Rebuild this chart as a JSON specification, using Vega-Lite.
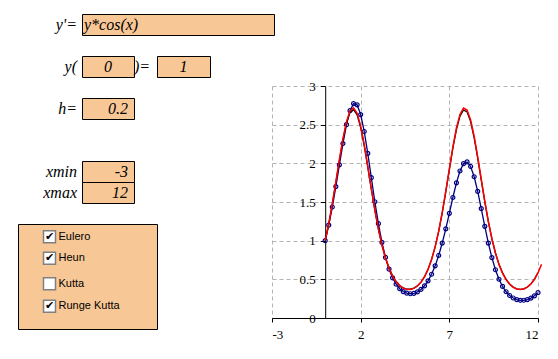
{
  "$schema": "https://vega.github.io/schema/vega-lite/v6.json",
  "padding": 0,
  "background": "white",
  "bounds": "flush",
  "spacing": 0,
  "config": {
    "view": {"stroke": null},
    "axis": {"labelFont": "Liberation Serif", "labelFontSize": 13, "labelColor": "black", "domainColor": "black", "tickColor": "black", "gridColor": "#b4b4b4", "gridDash": [4, 3], "gridWidth": 1, "domainWidth": 1, "tickWidth": 1}
  },
  "datasets": {
    "ode": [
      {"x": 0, "Eulero": 1, "Heun": 1, "RK": 1},
      {"x": 0.2, "Eulero": 1.2, "Heun": 1.2176, "RK": 1.2198},
      {"x": 0.4, "Eulero": 1.4352, "Heun": 1.4711, "RK": 1.4761},
      {"x": 0.6, "Eulero": 1.6996, "Heun": 1.7503, "RK": 1.7588},
      {"x": 0.8, "Eulero": 1.9802, "Heun": 2.0369, "RK": 2.049},
      {"x": 1.0, "Eulero": 2.2561, "Heun": 2.3042, "RK": 2.3198},
      {"x": 1.2, "Eulero": 2.4999, "Heun": 2.5212, "RK": 2.5397},
      {"x": 1.4, "Eulero": 2.681, "Heun": 2.6585, "RK": 2.679},
      {"x": 1.6, "Eulero": 2.7722, "Heun": 2.6957, "RK": 2.7171},
      {"x": 1.8, "Eulero": 2.756, "Heun": 2.6269, "RK": 2.6481},
      {"x": 2.0, "Eulero": 2.6308, "Heun": 2.4629, "RK": 2.4826},
      {"x": 2.2, "Eulero": 2.4118, "Heun": 2.2275, "RK": 2.2445},
      {"x": 2.4, "Eulero": 2.1279, "Heun": 1.9515, "RK": 1.965},
      {"x": 2.6, "Eulero": 1.8141, "Heun": 1.665, "RK": 1.6745},
      {"x": 2.8, "Eulero": 1.5032, "Heun": 1.3924, "RK": 1.3979},
      {"x": 3.0, "Eulero": 1.2199, "Heun": 1.1493, "RK": 1.1516},
      {"x": 3.2, "Eulero": 0.9784, "Heun": 0.9435, "RK": 0.9433},
      {"x": 3.4, "Eulero": 0.7831, "Heun": 0.7763, "RK": 0.7745},
      {"x": 3.6, "Eulero": 0.6316, "Heun": 0.6451, "RK": 0.6424},
      {"x": 3.8, "Eulero": 0.5184, "Heun": 0.5454, "RK": 0.5423},
      {"x": 4.0, "Eulero": 0.4364, "Heun": 0.4722, "RK": 0.4692},
      {"x": 4.2, "Eulero": 0.3793, "Heun": 0.4212, "RK": 0.4183},
      {"x": 4.4, "Eulero": 0.3421, "Heun": 0.3889, "RK": 0.3861},
      {"x": 4.6, "Eulero": 0.3211, "Heun": 0.3729, "RK": 0.3702},
      {"x": 4.8, "Eulero": 0.3139, "Heun": 0.3719, "RK": 0.3693},
      {"x": 5.0, "Eulero": 0.3194, "Heun": 0.3859, "RK": 0.3833},
      {"x": 5.2, "Eulero": 0.3375, "Heun": 0.4159, "RK": 0.4134},
      {"x": 5.4, "Eulero": 0.3691, "Heun": 0.4643, "RK": 0.4617},
      {"x": 5.6, "Eulero": 0.416, "Heun": 0.5343, "RK": 0.5319},
      {"x": 5.8, "Eulero": 0.4805, "Heun": 0.6304, "RK": 0.6284},
      {"x": 6.0, "Eulero": 0.5656, "Heun": 0.7575, "RK": 0.7562},
      {"x": 6.2, "Eulero": 0.6742, "Heun": 0.9202, "RK": 0.9203},
      {"x": 6.4, "Eulero": 0.8086, "Heun": 1.1215, "RK": 1.1236},
      {"x": 6.6, "Eulero": 0.9692, "Heun": 1.3606, "RK": 1.3655},
      {"x": 6.8, "Eulero": 1.1534, "Heun": 1.6307, "RK": 1.6391},
      {"x": 7.0, "Eulero": 1.354, "Heun": 1.9167, "RK": 1.9289},
      {"x": 7.2, "Eulero": 1.5582, "Heun": 2.1954, "RK": 2.2114},
      {"x": 7.4, "Eulero": 1.7477, "Heun": 2.437, "RK": 2.4564},
      {"x": 7.6, "Eulero": 1.901, "Heun": 2.6105, "RK": 2.6325},
      {"x": 7.8, "Eulero": 1.9966, "Heun": 2.6908, "RK": 2.7143},
      {"x": 8.0, "Eulero": 2.0181, "Heun": 2.6658, "RK": 2.6895},
      {"x": 8.2, "Eulero": 1.9594, "Heun": 2.5392, "RK": 2.5619},
      {"x": 8.4, "Eulero": 1.8265, "Heun": 2.3302, "RK": 2.3505},
      {"x": 8.6, "Eulero": 1.6368, "Heun": 2.0675, "RK": 2.0841},
      {"x": 8.8, "Eulero": 1.4146, "Heun": 1.7822, "RK": 1.7948},
      {"x": 9.0, "Eulero": 1.1851, "Heun": 1.5016, "RK": 1.51},
      {"x": 9.2, "Eulero": 0.9692, "Heun": 1.2451, "RK": 1.2497},
      {"x": 9.4, "Eulero": 0.7802, "Heun": 1.0235, "RK": 1.0251},
      {"x": 9.6, "Eulero": 0.6242, "Heun": 0.8406, "RK": 0.84},
      {"x": 9.8, "Eulero": 0.5013, "Heun": 0.695, "RK": 0.6932},
      {"x": 10.0, "Eulero": 0.408, "Heun": 0.5829, "RK": 0.5804},
      {"x": 10.2, "Eulero": 0.3395, "Heun": 0.4993, "RK": 0.4967},
      {"x": 10.4, "Eulero": 0.291, "Heun": 0.4396, "RK": 0.437},
      {"x": 10.6, "Eulero": 0.2584, "Heun": 0.3999, "RK": 0.3975},
      {"x": 10.8, "Eulero": 0.2385, "Heun": 0.3773, "RK": 0.375},
      {"x": 11.0, "Eulero": 0.2292, "Heun": 0.3701, "RK": 0.3679},
      {"x": 11.2, "Eulero": 0.2294, "Heun": 0.3778, "RK": 0.3756},
      {"x": 11.4, "Eulero": 0.2387, "Heun": 0.4009, "RK": 0.3988},
      {"x": 11.6, "Eulero": 0.2575, "Heun": 0.4413, "RK": 0.4392},
      {"x": 11.8, "Eulero": 0.2867, "Heun": 0.5017, "RK": 0.4995},
      {"x": 12.0, "Eulero": 0.328, "Heun": 0.5863, "RK": 0.5847},
      {"x": 12.2, "RK": 0.6933}
    ],
    "boxes": [
      {"x": 82.5, "x2": 274.5, "y": 14.5, "y2": 35.5},
      {"x": 82.5, "x2": 134.5, "y": 56.5, "y2": 77.5},
      {"x": 157.5, "x2": 210.5, "y": 56.5, "y2": 77.5},
      {"x": 82.5, "x2": 134.5, "y": 98.5, "y2": 119.5},
      {"x": 82.5, "x2": 134.5, "y": 161.5, "y2": 182.5},
      {"x": 82.5, "x2": 134.5, "y": 182.5, "y2": 203.5},
      {"x": 18.5, "x2": 157.5, "y": 224.5, "y2": 329.5}
    ],
    "rightText": [
      {"t": "y'=", "x": 77, "y": 25},
      {"t": "y(", "x": 77, "y": 67},
      {"t": "h=", "x": 77, "y": 109},
      {"t": "xmin", "x": 77, "y": 172},
      {"t": "xmax", "x": 77, "y": 193},
      {"t": "0.2", "x": 128, "y": 109},
      {"t": "-3", "x": 128, "y": 172},
      {"t": "12", "x": 128, "y": 193}
    ],
    "leftText": [
      {"t": ")=", "x": 134, "y": 67},
      {"t": "y*cos(x)", "x": 84, "y": 25}
    ],
    "centerText": [
      {"t": "0", "x": 108, "y": 67},
      {"t": "1", "x": 183.5, "y": 67}
    ],
    "checks": [
      {"label": "Eulero", "cy": 236.7, "checked": true},
      {"label": "Heun", "cy": 258.3, "checked": true},
      {"label": "Kutta", "cy": 283.7, "checked": false},
      {"label": "Runge Kutta", "cy": 306.3, "checked": true}
    ]
  },
  "hconcat": [
    {
      "width": 272,
      "height": 340,
      "layer": [
        {
          "data": {"name": "boxes"},
          "mark": {"type": "rect", "fill": "#F8C796", "stroke": "black", "strokeWidth": 1},
          "encoding": {
            "x": {"field": "x", "type": "quantitative", "scale": {"domain": [0, 272], "nice": false, "zero": false}, "axis": null},
            "x2": {"field": "x2"},
            "y": {"field": "y", "type": "quantitative", "scale": {"domain": [0, 340], "nice": false, "zero": false, "reverse": true}, "axis": null},
            "y2": {"field": "y2"}
          }
        },
        {
          "data": {"name": "rightText"},
          "mark": {"type": "text", "align": "right", "baseline": "middle", "font": "Liberation Serif", "fontStyle": "italic", "fontSize": 16},
          "encoding": {
            "x": {"field": "x", "type": "quantitative"},
            "y": {"field": "y", "type": "quantitative"},
            "text": {"field": "t"}
          }
        },
        {
          "data": {"name": "leftText"},
          "mark": {"type": "text", "align": "left", "baseline": "middle", "font": "Liberation Serif", "fontStyle": "italic", "fontSize": 16},
          "encoding": {
            "x": {"field": "x", "type": "quantitative"},
            "y": {"field": "y", "type": "quantitative"},
            "text": {"field": "t"}
          }
        },
        {
          "data": {"name": "centerText"},
          "mark": {"type": "text", "align": "center", "baseline": "middle", "font": "Liberation Serif", "fontStyle": "italic", "fontSize": 16},
          "encoding": {
            "x": {"field": "x", "type": "quantitative"},
            "y": {"field": "y", "type": "quantitative"},
            "text": {"field": "t"}
          }
        },
        {
          "data": {"name": "checks"},
          "mark": {"type": "square", "size": 144, "fill": "white", "stroke": "#808080", "strokeWidth": 1.5, "opacity": 1},
          "encoding": {
            "x": {"datum": 49.5, "type": "quantitative"},
            "y": {"field": "cy", "type": "quantitative"}
          }
        },
        {
          "data": {"name": "checks"},
          "transform": [{"filter": "datum.checked"}],
          "mark": {"type": "text", "align": "center", "baseline": "middle", "font": "DejaVu Sans", "fontSize": 11, "fontWeight": "bold", "color": "black", "text": "✔"},
          "encoding": {
            "x": {"datum": 49.5, "type": "quantitative"},
            "y": {"field": "cy", "type": "quantitative"}
          }
        },
        {
          "data": {"name": "checks"},
          "mark": {"type": "text", "align": "left", "baseline": "middle", "font": "Liberation Sans", "fontSize": 11, "color": "black"},
          "encoding": {
            "x": {"datum": 58.5, "type": "quantitative"},
            "y": {"field": "cy", "type": "quantitative"},
            "text": {"field": "label"}
          }
        }
      ]
    },
    {
      "vconcat": [
        {
          "width": 266,
          "height": 86,
          "data": {"values": [{}]},
          "mark": {"type": "point", "opacity": 0}
        },
        {
          "width": 266,
          "height": 232,
          "data": {"name": "ode"},
          "transform": [{"fold": ["Eulero", "Heun", "RK"], "as": ["method", "y"]}],
          "encoding": {
            "x": {"field": "x", "type": "quantitative", "scale": {"domain": [-3, 12], "nice": false, "zero": false},
              "axis": {"values": [-3, 2, 7, 12], "title": null, "grid": true, "tickSize": 4, "labelPadding": 6, "labelExpr": "'' + datum.value", "labelOverlap": false}},
            "y": {"field": "y", "type": "quantitative", "scale": {"domain": [0, 3], "nice": false, "zero": false},
              "axis": {"values": [0, 0.5, 1, 1.5, 2, 2.5, 3], "title": null, "grid": true, "offset": -53.2, "tickSize": 5, "labelPadding": 5, "labelExpr": "'' + datum.value", "labelOverlap": false}}
          },
          "layer": [
            {
              "transform": [{"filter": "datum.method === 'Eulero'"}],
              "mark": {"type": "line", "color": "#000080", "strokeWidth": 1.3}
            },
            {
              "transform": [{"filter": "datum.method === 'Eulero'"}],
              "mark": {"type": "point", "shape": "circle", "filled": false, "color": "#000080", "size": 16, "strokeWidth": 1.2, "opacity": 1}
            },
            {
              "transform": [{"filter": "datum.method === 'Heun'"}],
              "mark": {"type": "line", "color": "black", "strokeWidth": 1.3}
            },
            {
              "transform": [{"filter": "datum.method === 'RK'"}],
              "mark": {"type": "line", "color": "#FF0000", "strokeWidth": 1.5}
            }
          ]
        }
      ],
      "spacing": 0,
      "bounds": "flush"
    }
  ]
}
